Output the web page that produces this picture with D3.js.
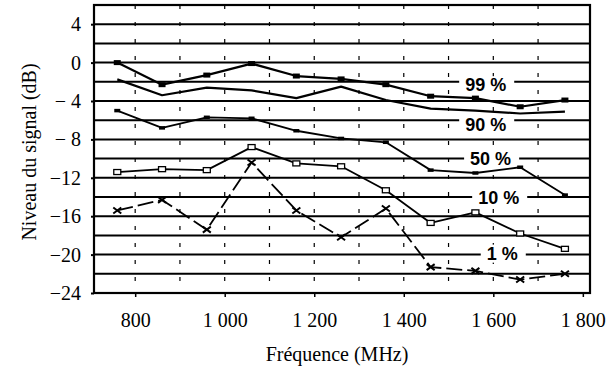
<!DOCTYPE html>
<html>
<head>
<meta charset="utf-8">
<script src="https://cdn.jsdelivr.net/npm/d3@7"></script>
<style>
  html, body { margin: 0; padding: 0; background: #fff; }
  svg { display: block; }
  .serif { font-family: "Liberation Serif", "Times New Roman", Times, "DejaVu Serif", serif; }
  .sans { font-family: "Liberation Sans", Arial, Helvetica, sans-serif; }
</style>
</head>
<body>
<svg id="chart" width="607" height="372"></svg>
<script>
// Signal level percentiles versus frequency
const freqs = [760, 860, 960, 1060, 1160, 1260, 1360, 1460, 1560, 1660, 1760];
const p99 = [0, -2.3, -1.3, -0.1, -1.4, -1.7, -2.3, -3.5, -3.7, -4.6, -3.9];
const p90 = [-1.75, -3.4, -2.6, -2.9, -3.7, -2.5, -3.9, -4.8, -5.0, -5.3, -5.1];
const p50 = [-5.0, -6.8, -5.7, -5.8, -7.1, -7.9, -8.3, -11.2, -11.5, -10.9, -13.8];
const p10 = [-11.4, -11.1, -11.2, -8.8, -10.5, -10.8, -13.3, -16.7, -15.6, -17.8, -19.4];
const p01 = [-15.4, -14.3, -17.4, -10.4, -15.4, -18.2, -15.2, -21.3, -21.7, -22.6, -22.0];

const seriesLabels = ["99 %", "90 %", "50 %", "10 %", "1 %"];
const xTickValues = [800, 1000, 1200, 1400, 1600, 1800];
const xTickLabels = ["800", "1 000", "1 200", "1 400", "1 600", "1 800"];
const yTickValues = [4, 0, -4, -8, -12, -16, -20, -24];
const yTickLabels = ["4", "0", "\u2212 4", "\u2212 8", "\u221212", "\u221216", "\u221220", "\u221224"];

const svg = d3.select("#chart");
const box = { left: 94, right: 590, top: 5, bottom: 293 };

const x = d3.scaleLinear().domain([708, 1816]).range([box.left, box.right]);
const y = d3.scaleLinear().domain([-24, 6]).range([box.bottom, box.top]);

// dotted vertical guides every 100 MHz
const vGuides = d3.range(800, 1800, 100);
svg.append("g").selectAll("line").data(vGuides).join("line")
  .attr("x1", d => x(d)).attr("x2", d => x(d))
  .attr("y1", box.top).attr("y2", box.bottom)
  .attr("stroke", "#000").attr("stroke-width", 1.2)
  .attr("stroke-dasharray", "4,13");

// heavy horizontal grid every 2 dB
const hGrid = d3.range(-22, 6, 2);
svg.append("g").selectAll("line").data(hGrid).join("line")
  .attr("x1", box.left).attr("x2", box.right)
  .attr("y1", d => y(d)).attr("y2", d => y(d))
  .attr("stroke", "#000").attr("stroke-width", 2);

// frame
svg.append("rect")
  .attr("x", box.left).attr("y", box.top)
  .attr("width", box.right - box.left).attr("height", box.bottom - box.top)
  .attr("fill", "none").attr("stroke", "#000").attr("stroke-width", 2.2);

// axes
const xAxis = d3.axisBottom(x).tickValues(xTickValues)
  .tickFormat((d, i) => xTickLabels[i]).tickSize(4).tickPadding(16);
const gx = svg.append("g").attr("transform", `translate(0,${box.bottom})`).call(xAxis);
gx.attr("font-family", null).attr("font-size", null);
gx.select(".domain").remove();
gx.selectAll(".tick line").attr("stroke", "#000").attr("stroke-width", 1.5);
gx.selectAll(".tick text").attr("class", "serif").style("font-size", "20px").attr("fill", "#000");

const yAxis = d3.axisLeft(y).tickValues(yTickValues)
  .tickFormat((d, i) => yTickLabels[i]).tickSize(3).tickPadding(10);
const gy = svg.append("g").attr("transform", `translate(${box.left},0)`).call(yAxis);
gy.attr("font-family", null).attr("font-size", null);
gy.select(".domain").remove();
gy.selectAll(".tick line").attr("stroke", "#000").attr("stroke-width", 2);
gy.selectAll(".tick text").attr("class", "serif").style("font-size", "20px").attr("fill", "#000");

// axis titles
svg.append("text").attr("class", "serif")
  .attr("transform", `translate(29,${(box.top + box.bottom) / 2 + 3}) rotate(-90)`)
  .attr("text-anchor", "middle").attr("dominant-baseline", "central")
  .style("font-size", "20px").attr("fill", "#000")
  .text("Niveau du signal (dB)");
svg.append("text").attr("class", "serif")
  .attr("x", 337).attr("y", 361)
  .attr("text-anchor", "middle")
  .style("font-size", "20px").attr("fill", "#000")
  .text("Fréquence (MHz)");

// percentile labels sit on the grid, in white boxes
const labelFreq = [1583, 1583, 1594, 1612, 1620];
const labelDb = [-2.35, -6.5, -10.05, -14.1, -19.9];
const gl = svg.append("g");
seriesLabels.forEach((lab, i) => {
  const cx = x(labelFreq[i]), cy = y(labelDb[i]);
  const t = gl.append("text").attr("class", "sans")
    .attr("x", cx).attr("y", cy)
    .attr("text-anchor", "middle").attr("dominant-baseline", "central")
    .style("font-weight", "bold").style("font-size", "18px")
    .attr("fill", "#000").text(lab);
  const w = t.node().getComputedTextLength();
  gl.insert("rect", "text")
    .attr("x", cx - w / 2 - 6).attr("y", cy - 9)
    .attr("width", w + 14).attr("height", 18)
    .attr("fill", "#fff");
});

// percentile curves
const line = d3.line().x((d, i) => x(freqs[i])).y(d => y(d));
const series = [
  { vals: p99, width: 2.2, dash: null, mark: "filled" },
  { vals: p90, width: 2.2, dash: null, mark: null },
  { vals: p50, width: 1.8, dash: null, mark: "small" },
  { vals: p10, width: 1.8, dash: null, mark: "open" },
  { vals: p01, width: 1.8, dash: "16,5", mark: "cross" }
];
const gs = svg.append("g");
series.forEach(s => {
  gs.append("path").datum(s.vals)
    .attr("d", line).attr("fill", "none")
    .attr("stroke", "#000").attr("stroke-width", s.width)
    .attr("stroke-linejoin", "round")
    .attr("stroke-dasharray", s.dash);
  if (s.mark === "filled" || s.mark === "small") {
    const w = s.mark === "filled" ? 7 : 6, h = s.mark === "filled" ? 5 : 3.5;
    gs.append("g").selectAll("rect").data(s.vals).join("rect")
      .attr("x", (d, i) => x(freqs[i]) - w / 2).attr("y", d => y(d) - h / 2)
      .attr("width", w).attr("height", h).attr("fill", "#000");
  } else if (s.mark === "open") {
    gs.append("g").selectAll("rect").data(s.vals).join("rect")
      .attr("x", (d, i) => x(freqs[i]) - 3.5).attr("y", d => y(d) - 2.5)
      .attr("width", 7).attr("height", 5)
      .attr("fill", "#fff").attr("stroke", "#000").attr("stroke-width", 1.3);
  } else if (s.mark === "cross") {
    gs.append("g").selectAll("path").data(s.vals).join("path")
      .attr("transform", (d, i) => `translate(${x(freqs[i])},${y(d)})`)
      .attr("d", "M-4,-3L4,3M-4,3L4,-3")
      .attr("stroke", "#000").attr("stroke-width", 2);
  }
});
</script>
</body>
</html>
